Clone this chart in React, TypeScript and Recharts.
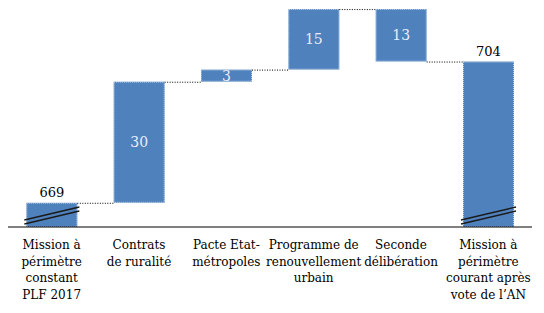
import React from 'react';
import { BarChart, Bar, XAxis, YAxis, LabelList } from 'recharts';

const CATEGORIES = [
  'Mission à périmètre constant PLF 2017',
  'Contrats de ruralité',
  'Pacte Etat-métropoles',
  'Programme de renouvellement urbain',
  'Seconde délibération',
  'Mission à périmètre courant après vote de l’AN',
];

const TICK_LINES = [
  ['Mission à', 'périmètre', 'constant', 'PLF 2017'],
  ['Contrats', 'de ruralité'],
  ['Pacte Etat-', 'métropoles'],
  ['Programme de', 'renouvellement', 'urbain'],
  ['Seconde', 'délibération'],
  ['Mission à', 'périmètre', 'courant après', 'vote de l’AN'],
];

const START_VALUE = 669;
const CHANGES = [30, 3, 15, -13];
const END_VALUE = 704;

// broken axis: the totals start at the bottom of the visible range
const AXIS_MIN = 663;
const AXIS_MAX = 719;

const BLUE = '#4F81BD';
const GAP = 0.21;
const FONT = '"DejaVu Serif", serif';

type Row = {
  name: string;
  range: [number, number];
  label: number;
  end: number;
  total: boolean;
};

const buildRows = (): Row[] => {
  const rows: Row[] = [
    { name: CATEGORIES[0], range: [AXIS_MIN, START_VALUE], label: START_VALUE, end: START_VALUE, total: true },
  ];
  let running = START_VALUE;
  CHANGES.forEach((c, i) => {
    const next = running + c;
    rows.push({
      name: CATEGORIES[i + 1],
      range: [Math.min(running, next), Math.max(running, next)],
      label: Math.abs(c),
      end: next,
      total: false,
    });
    running = next;
  });
  rows.push({
    name: CATEGORIES[CATEGORIES.length - 1],
    range: [AXIS_MIN, END_VALUE],
    label: END_VALUE,
    end: END_VALUE,
    total: true,
  });
  return rows;
};

const data = buildRows();

const WaterfallBar = (props: any) => {
  const { x, y, width, height, payload, index } = props;
  const isLast = index === data.length - 1;
  const endY = payload.end === payload.range[1] ? y : y + height;
  const gap = (width * 2 * GAP) / (1 - 2 * GAP);
  const bottom = y + height;
  return (
    <g>
      <rect x={x} y={y} width={width} height={height} fill={BLUE} />
      <rect
        x={x + 0.5}
        y={y + 0.5}
        width={width - 1}
        height={height - 1}
        fill="none"
        stroke="#ffffff"
        strokeOpacity={0.6}
        strokeDasharray="1 1"
      />
      {!isLast && (
        <line
          x1={x + width}
          y1={endY + 0.5}
          x2={x + width + gap}
          y2={endY + 0.5}
          stroke="#000"
          strokeDasharray="1 1.5"
        />
      )}
      {payload.total && (
        <g stroke="#1a1a1a" strokeWidth={1.4}>
          <line x1={x - 2} y1={bottom - 3} x2={x + width + 2} y2={bottom - 16} />
          <line x1={x - 2} y1={bottom - 7} x2={x + width + 2} y2={bottom - 20} />
        </g>
      )}
    </g>
  );
};

const ValueLabel = (props: any) => {
  const vb = props.viewBox ?? props;
  const { x, y, width, height } = vb;
  const row = data[props.index];
  if (!row) return null;
  if (row.total) {
    return (
      <text x={x + width / 2} y={y - 6} textAnchor="middle" fontFamily={FONT} fontSize={13} fill="#000">
        {props.value}
      </text>
    );
  }
  return (
    <text
      x={x + width / 2}
      y={y + height / 2}
      dy="0.36em"
      textAnchor="middle"
      fontFamily={FONT}
      fontSize={14}
      fill="#E8EEF7"
    >
      {props.value}
    </text>
  );
};

const CategoryTick = (props: any) => {
  const { x, y, payload } = props;
  const lines = TICK_LINES[CATEGORIES.indexOf(payload.value)] ?? [payload.value];
  return (
    <text x={x} y={y} textAnchor="middle" fontFamily={FONT} fontSize={12} fill="#000">
      {lines.map((line, i) => (
        <tspan key={i} x={x} dy={i === 0 ? 22 : 16.7}>
          {line}
        </tspan>
      ))}
    </text>
  );
};

const App = () => {
  return (
    <div style={{ position: 'absolute', left: 0, top: 0, background: '#fff' }}>
      <BarChart
        width={544}
        height={313}
        data={data}
        margin={{ top: 1, right: 12, bottom: 0, left: 8 }}
        barCategoryGap="21%"
      >
        <XAxis
          dataKey="name"
          interval={0}
          height={86}
          tickSize={0}
          tickMargin={0}
          tickLine={false}
          axisLine={{ stroke: '#000' }}
          tick={<CategoryTick />}
        />
        <YAxis hide width={0} domain={[AXIS_MIN, AXIS_MAX]} allowDataOverflow />
        <Bar dataKey="range" shape={<WaterfallBar />} isAnimationActive={false}>
          <LabelList dataKey="label" content={<ValueLabel />} />
        </Bar>
      </BarChart>
    </div>
  );
};

export default App;
